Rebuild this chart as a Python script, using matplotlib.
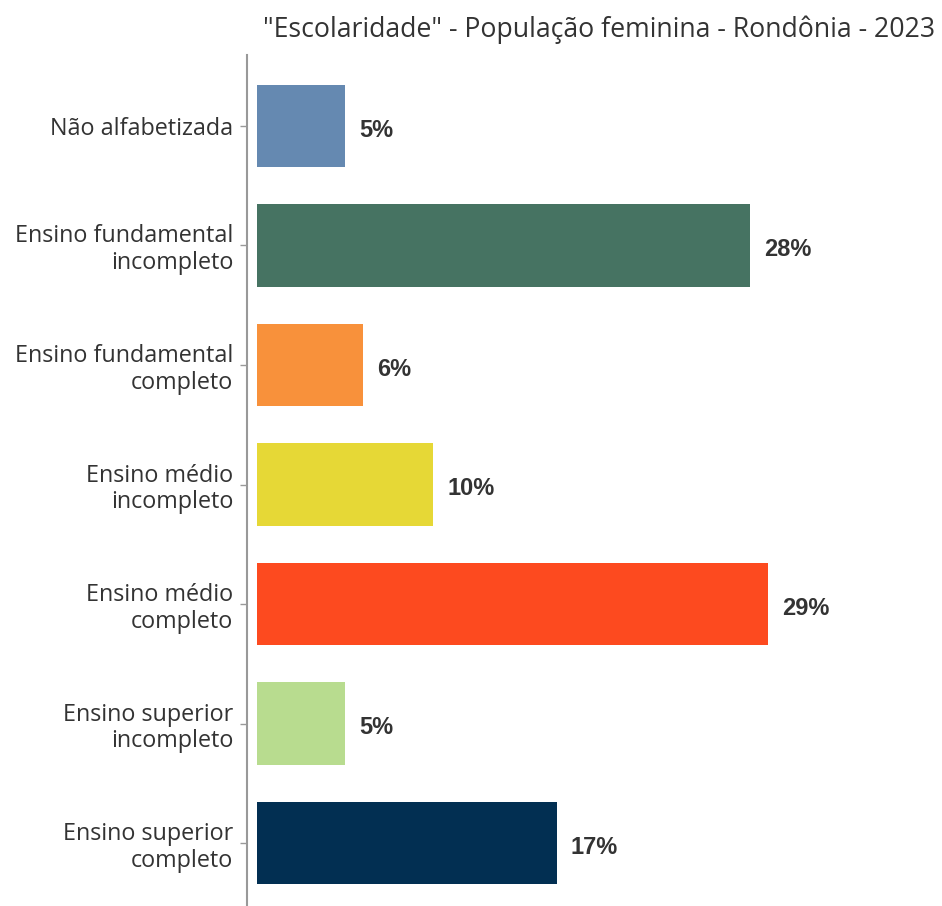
import matplotlib
matplotlib.use("Agg")
import matplotlib.pyplot as plt

categories = ["Não alfabetizada", "Ensino fundamental\nincompleto", "Ensino fundamental\ncompleto",
              "Ensino médio\nincompleto", "Ensino médio\ncompleto", "Ensino superior\nincompleto",
              "Ensino superior\ncompleto"]
values = [5, 28, 6, 10, 29, 5, 17]
labels = ["5%", "28%", "6%", "10%", "29%", "5%", "17%"]
colors = ["#6589B1", "#467362", "#F8913B", "#E6D836", "#FD4A1F", "#B8DC8F", "#022F52"]
title = '"Escolaridade" - População feminina - Rondônia - 2023'

W, H = 942, 906
fig = plt.figure(figsize=(W / 100, H / 100), dpi=100)
ax = fig.add_axes([247 / W, 0, (932 - 247) / W, 1 - 55 / H])

pos = list(range(len(categories)))
ax.barh(pos, values, height=0.69, color=colors, edgecolor="none")
ax.set_ylim(6.527, -0.594)
ax.set_xlim(-0.568, 38.3)

for p, v, lab in zip(pos, values, labels):
    ax.annotate(lab, (v, p), xytext=(10, -3), textcoords="offset points",
                ha="left", va="center", fontsize=17, fontweight="bold",
                color="#333333", family="Liberation Sans")

ax.set_yticks(pos)
ax.set_yticklabels(categories, fontsize=16.8, color="#333333", family="Open Sans",
                   linespacing=1.15)
ax.tick_params(axis="y", length=5, width=1, color="#999999", pad=5)
ax.set_xticks([])
for s in ["top", "right", "bottom"]:
    ax.spines[s].set_visible(False)
ax.spines["left"].set_color("#999999")
ax.spines["left"].set_linewidth(1.5)

fig.text(935 / W, 1 - 30 / H, title, ha="right", va="center", fontsize=19.2,
         color="#333333", family="Open Sans")

fig.savefig("out.png", dpi=100)
